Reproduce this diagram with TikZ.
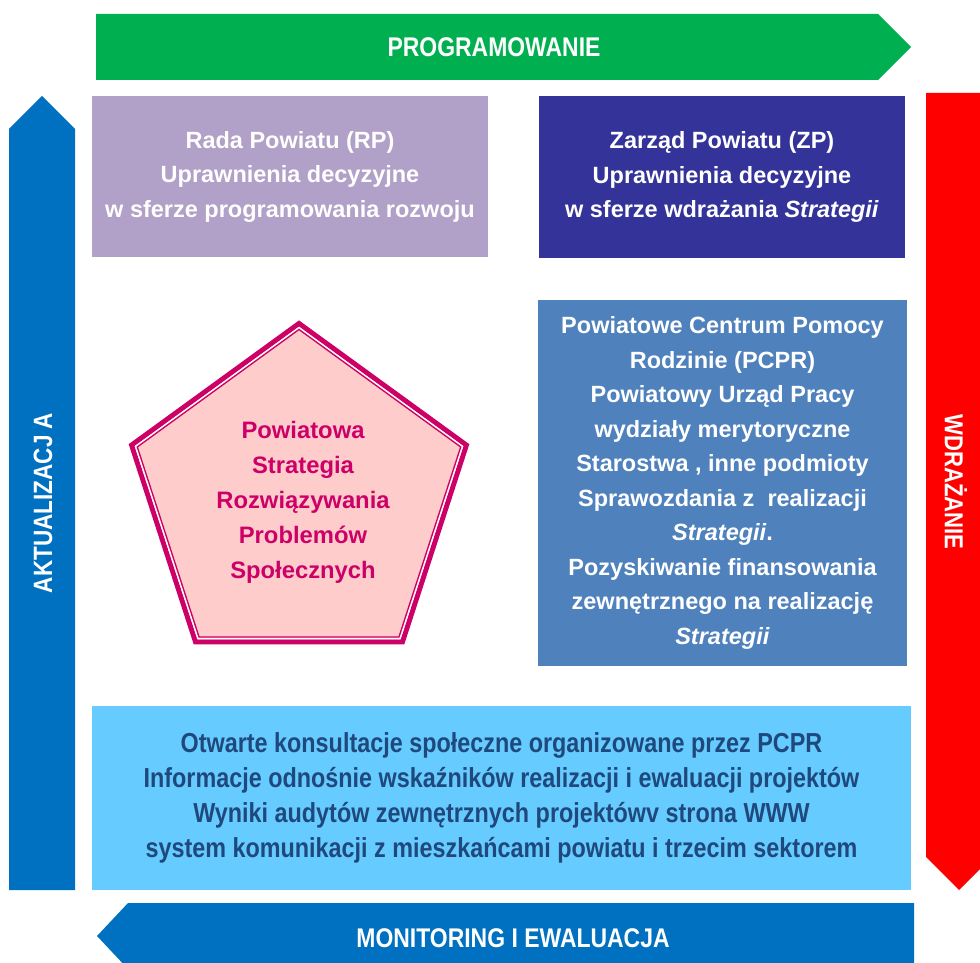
\documentclass[tikz,border=0pt]{standalone}
\usepackage{fontspec}
\usetikzlibrary{calc}
\setmainfont{Liberation Sans}
\newfontfamily\cond[FakeStretch=0.85]{Liberation Sans}
\definecolor{cgreen}{HTML}{00B050}
\definecolor{cblue}{HTML}{0070C0}
\definecolor{cred}{HTML}{FF0000}
\definecolor{clilac}{HTML}{B1A0C7}
\definecolor{cdark}{HTML}{333399}
\definecolor{csteel}{HTML}{4F81BD}
\definecolor{clight}{HTML}{66CCFF}
\definecolor{cnavy}{HTML}{1F497D}
\definecolor{cpink}{HTML}{FFCCCC}
\definecolor{cmag}{HTML}{CC0066}
\tikzset{
  arrowlabel/.style={text=white, font=\cond\bfseries\fontsize{27}{32}\selectfont, inner sep=0pt},
  box/.style={inner sep=0pt, align=center, text=white, font=\bfseries\fontsize{23.5}{34.5}\selectfont},
  lowbox/.style={inner sep=0pt, align=center, text=cnavy, font=\cond\bfseries\fontsize{27.5}{35}\selectfont},
  pentext/.style={inner sep=0pt, align=center, text=cmag, font=\bfseries\fontsize{23.8}{35}\selectfont}
}
\begin{document}
\begin{tikzpicture}[x=1pt,y=-1pt,line join=miter]
\useasboundingbox (0,0) rectangle (980,963);
\clip (0,0) rectangle (980,963);
% arrows
\fill[cgreen] (96,14) -- (878,14) -- (911,47) -- (878,80) -- (96,80) -- cycle;
\node[arrowlabel] (prog) at (494,47) {PROGRAMOWANIE};
\fill[cblue] (9,890) -- (9,129) -- (42,96) -- (75,129) -- (75,890) -- cycle;
\node[arrowlabel, rotate=90, font=\cond\bfseries\fontsize{26.5}{30}\selectfont] (akt) at (43,503) {AKTUALIZACJ A};
\fill[cred] (926,93) -- (992,93) -- (992,857) -- (959,890) -- (926,857) -- cycle;
\node[arrowlabel, rotate=-90, font=\cond\bfseries\fontsize{26}{30}\selectfont] (wdr) at (956,482) {WDRAŻANIE};
\fill[cblue] (914,903) -- (128,903) -- (97,936) -- (128,969) -- (914,969) -- cycle;
\node[arrowlabel] (mon) at (513,938) {MONITORING I EWALUACJA};
% boxes
\node[box, fill=clilac, minimum width=396pt, minimum height=161pt] (rp) at (290,176.5)
  {Rada Powiatu (RP)\\Uprawnienia decyzyjne\\w sferze programowania rozwoju};
\node[box, fill=cdark, minimum width=366pt, minimum height=162pt] (zp) at (722,177)
  {Zarząd Powiatu (ZP)\\Uprawnienia decyzyjne\\w sferze wdrażania \textit{Strategii}};
\node[box, fill=csteel, minimum width=369pt, minimum height=366pt] (pcpr) at (722.5,483)
  {Powiatowe Centrum Pomocy\\Rodzinie (PCPR)\\Powiatowy Urząd Pracy\\wydziały merytoryczne\\Starostwa , inne podmioty\\Sprawozdania z\ \ realizacji\\\textit{Strategii}.\\Pozyskiwanie finansowania\\zewnętrznego na realizację\\\textit{Strategii}};
\node[lowbox, fill=clight, minimum width=819pt, minimum height=184pt] (kons) at (501.5,798)
  {Otwarte konsultacje społeczne organizowane przez PCPR\\Informacje odnośnie wskaźników realizacji i ewaluacji projektów\\Wyniki audytów zewnętrznych projektówv strona WWW\\system komunikacji z mieszkańcami powiatu i trzecim sektorem};
% pentagon
\coordinate (pc) at (299,499.5);
\fill[cpink] ($(pc)+(-90:176)$) -- ($(pc)+(-18:176)$) -- ($(pc)+(54:176)$) -- ($(pc)+(126:176)$) -- ($(pc)+(198:176)$) -- cycle;
\draw[cmag, line width=5pt] ($(pc)+(-90:176)$) -- ($(pc)+(-18:176)$) -- ($(pc)+(54:176)$) -- ($(pc)+(126:176)$) -- ($(pc)+(198:176)$) -- cycle;
\draw[white, line width=1.3pt] ($(pc)+(-90:172)$) -- ($(pc)+(-18:172)$) -- ($(pc)+(54:172)$) -- ($(pc)+(126:172)$) -- ($(pc)+(198:172)$) -- cycle;
\draw[cmag, line width=1.3pt] ($(pc)+(-90:170)$) -- ($(pc)+(-18:170)$) -- ($(pc)+(54:170)$) -- ($(pc)+(126:170)$) -- ($(pc)+(198:170)$) -- cycle;
\node[pentext] (prps) at (303,502) {Powiatowa\\Strategia\\Rozwiązywania\\Problemów\\Społecznych};
\end{tikzpicture}
\end{document}
